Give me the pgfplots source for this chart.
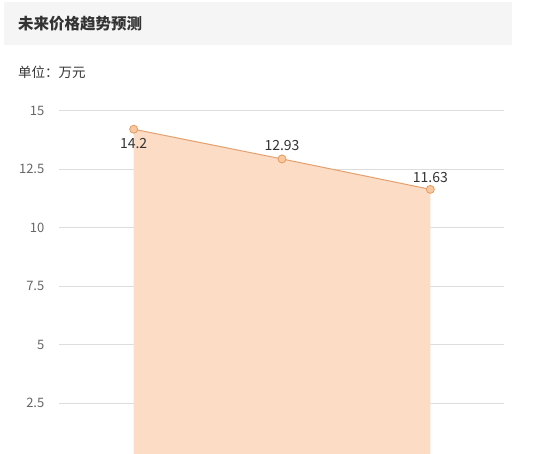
\documentclass[border=0pt]{standalone}
\usepackage{fontspec}
\setmainfont{Noto Sans CJK SC}
\usepackage{pgfplots}
\pgfplotsset{compat=1.18}
\usepackage{pgfplotstable}

\definecolor{peach}{HTML}{FDDCC5}
\definecolor{lineor}{HTML}{E3A06E}
\definecolor{markfill}{HTML}{F9C8A0}
\definecolor{markdraw}{HTML}{E59A5E}
\definecolor{gridgray}{HTML}{DDDDDD}
\definecolor{ticktxt}{HTML}{666666}
\definecolor{labtxt}{HTML}{333333}
\definecolor{barbg}{HTML}{F5F5F5}

% future price forecast, unit: 10k yuan
\pgfplotstableread{
x y dy lab
0 14.2 -14 14.2
1 12.93 13 12.93
2 11.63 12 11.63
}\pricedata

\begin{document}
\begin{tikzpicture}
\begin{axis}[
  at={(0,0)}, anchor=south west,
  scale only axis,
  width=445pt, height=343.5pt,
  xmin=-0.5, xmax=2.5,
  ymin=0.32, ymax=15,
  axis line style={draw=none},
  xtick=\empty,
  ytick={2.5,5,7.5,10,12.5,15},
  yticklabels={2.5,5,7.5,10,12.5,15},
  major tick length=0pt,
  ymajorgrids,
  grid style={gridgray, line width=0.8pt},
  yticklabel style={font=\fontsize{13}{13}\selectfont, text=ticktxt, anchor=east, inner sep=0pt, xshift=-15pt},
  /pgf/number format/assume math mode=true,
  clip mode=individual,
]
\addplot[draw=none, fill=peach] table[x=x, y=y] {\pricedata} \closedcycle;
\addplot[lineor, line width=1pt, mark=*, mark size=4pt,
  mark options={fill=markfill, draw=markdraw, line width=0.8pt},
  point meta=explicit symbolic,
  visualization depends on={\thisrow{dy} \as \dy},
  nodes near coords,
  every node near coord/.append style={anchor=center, yshift=\dy*1pt,
    font=\fontsize{14}{14}\selectfont, text=labtxt},
] table[x=x, y=y, meta=lab] {\pricedata};
\end{axis}
\path[use as bounding box] (-59.5pt,0pt) rectangle (479.5pt,454pt);
\fill[barbg] (-55.5pt,409pt) rectangle (452.5pt,452pt);
\node[anchor=west, inner sep=0pt, text=labtxt, font=\fontsize{15.5}{15.5}\selectfont\bfseries] at (-41.5pt,430pt) {未来价格趋势预测};
\node[anchor=west, inner sep=0pt, text=labtxt, font=\fontsize{13.5}{13.5}\selectfont] at (-41.5pt,382pt) {单位：万元};
\end{tikzpicture}
\end{document}
